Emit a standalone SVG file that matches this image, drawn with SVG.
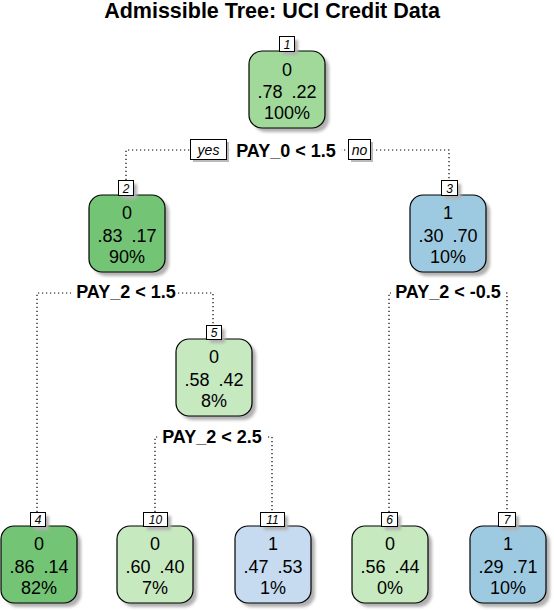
<svg xmlns="http://www.w3.org/2000/svg" width="554" height="610" viewBox="0 0 554 610">
<style>
  text { font-family: "Liberation Sans", Arial, sans-serif; fill: #000; }
  .title { font-size: 21.5px; font-weight: bold; text-anchor: middle; }
  .box { stroke: #000; stroke-width: 1.2; }
  .shadow { fill: #b0b0b0; filter: url(#blur); }
  .t { font-size: 18px; text-anchor: middle; word-spacing: 4px; }
  .lab { fill: #fff; stroke: #000; stroke-width: 1; }
  .num { font-size: 12px; font-style: italic; text-anchor: middle; }
  .split { font-size: 18px; font-weight: bold; text-anchor: middle; }
  .yn { font-size: 14px; font-style: italic; text-anchor: middle; }
  .con { fill: none; stroke: #000; stroke-width: 1.2; stroke-dasharray: 1.2 2.8; }
  .bg { fill: #fff; }
</style>
<defs>
  <filter id="blur" x="-20%" y="-20%" width="140%" height="140%"><feGaussianBlur stdDeviation="1.5"/></filter>
</defs>
<rect width="554" height="610" fill="#fff"/>
<text class="title" x="272" y="18">Admissible Tree: UCI Credit Data</text>

<g id="connectors">
  <path class="con" d="M126,180 V150 H449 V180"/>
  <path class="con" d="M37,512 V293 H213 V325"/>
  <path class="con" d="M389,512 V293 H507 V512"/>
  <path class="con" d="M155,512 V437 H272 V512"/>
</g>

<g id="split1">
  <rect class="bg" x="231" y="140" width="110" height="20"/>
  <text class="split" x="286" y="157">PAY_0 &lt; 1.5</text>
  <rect x="193" y="142" width="36" height="20" fill="#bbb"/>
  <rect class="lab" x="190.5" y="139.5" width="36" height="20"/>
  <text class="yn" x="208.5" y="155">yes</text>
  <rect x="351" y="142" width="22" height="20" fill="#bbb"/>
  <rect class="lab" x="348.5" y="139.5" width="22" height="20"/>
  <text class="yn" x="359.5" y="155">no</text>
</g>
<g id="split2">
  <rect class="bg" x="71" y="283" width="107" height="20"/>
  <text class="split" x="126" y="298">PAY_2 &lt; 1.5</text>
</g>
<g id="split3">
  <rect class="bg" x="391" y="283" width="114" height="20"/>
  <text class="split" x="448" y="298">PAY_2 &lt; -0.5</text>
</g>
<g id="split5">
  <rect class="bg" x="158" y="428" width="110" height="20"/>
  <text class="split" x="212" y="443">PAY_2 &lt; 2.5</text>
</g>

<g id="node1">
  <rect class="shadow" x="253" y="55" width="76" height="77" rx="13"/>
  <rect class="box" x="249" y="51" width="76" height="77" rx="13" fill="#a1d99b"/>
  <rect class="shadow" x="283" y="40" width="15" height="15"/>
  <rect class="lab" x="279.5" y="36.5" width="15" height="15"/>
  <text class="num" x="287" y="49">1</text>
  <text class="t" x="287" y="76">0</text>
  <text class="t" x="287" y="98">.78 .22</text>
  <text class="t" x="287" y="119">100%</text>
</g>
<g id="node2">
  <rect class="shadow" x="93" y="199" width="76" height="77" rx="13"/>
  <rect class="box" x="89" y="195" width="76" height="77" rx="13" fill="#74c476"/>
  <rect class="shadow" x="122" y="184" width="15" height="15"/>
  <rect class="lab" x="118.5" y="180.5" width="15" height="15"/>
  <text class="num" x="126" y="193">2</text>
  <text class="t" x="127" y="219">0</text>
  <text class="t" x="127" y="242">.83 .17</text>
  <text class="t" x="127" y="263">90%</text>
</g>
<g id="node3">
  <rect class="shadow" x="414" y="199" width="76" height="77" rx="13"/>
  <rect class="box" x="410" y="195" width="76" height="77" rx="13" fill="#9ecae1"/>
  <rect class="shadow" x="445" y="184" width="16" height="15"/>
  <rect class="lab" x="441.5" y="180.5" width="16" height="15"/>
  <text class="num" x="449.5" y="193">3</text>
  <text class="t" x="448" y="219">1</text>
  <text class="t" x="448" y="242">.30 .70</text>
  <text class="t" x="448" y="263">10%</text>
</g>
<g id="node5">
  <rect class="shadow" x="180" y="343" width="76" height="77" rx="13"/>
  <rect class="box" x="176" y="339" width="76" height="77" rx="13" fill="#c7e9c0"/>
  <rect class="shadow" x="210" y="329" width="15" height="14"/>
  <rect class="lab" x="206.5" y="325.5" width="15" height="14"/>
  <text class="num" x="214" y="337">5</text>
  <text class="t" x="214" y="363">0</text>
  <text class="t" x="214" y="386">.58 .42</text>
  <text class="t" x="214" y="407">8%</text>
</g>
<g id="node4">
  <rect class="shadow" x="5" y="530" width="76" height="77" rx="13"/>
  <rect class="box" x="1" y="526" width="76" height="77" rx="13" fill="#74c476"/>
  <rect class="shadow" x="34" y="516" width="15" height="14"/>
  <rect class="lab" x="30.5" y="512.5" width="15" height="14"/>
  <text class="num" x="38" y="524">4</text>
  <text class="t" x="39" y="550">0</text>
  <text class="t" x="39" y="573">.86 .14</text>
  <text class="t" x="39" y="594">82%</text>
</g>
<g id="node10">
  <rect class="shadow" x="121" y="530" width="76" height="77" rx="13"/>
  <rect class="box" x="117" y="526" width="76" height="77" rx="13" fill="#c7e9c0"/>
  <rect class="shadow" x="147" y="516" width="24" height="14"/>
  <rect class="lab" x="143.5" y="512.5" width="24" height="14"/>
  <text class="num" x="155.5" y="524">10</text>
  <text class="t" x="155" y="550">0</text>
  <text class="t" x="155" y="573">.60 .40</text>
  <text class="t" x="155" y="594">7%</text>
</g>
<g id="node11">
  <rect class="shadow" x="239" y="530" width="76" height="77" rx="13"/>
  <rect class="box" x="235" y="526" width="76" height="77" rx="13" fill="#c6dbef"/>
  <rect class="shadow" x="264" y="516" width="24" height="14"/>
  <rect class="lab" x="260.5" y="512.5" width="24" height="14"/>
  <text class="num" x="272.5" y="524">11</text>
  <text class="t" x="273" y="550">1</text>
  <text class="t" x="273" y="573">.47 .53</text>
  <text class="t" x="273" y="594">1%</text>
</g>
<g id="node6">
  <rect class="shadow" x="356" y="530" width="76" height="77" rx="13"/>
  <rect class="box" x="352" y="526" width="76" height="77" rx="13" fill="#c7e9c0"/>
  <rect class="shadow" x="385" y="516" width="16" height="14"/>
  <rect class="lab" x="381.5" y="512.5" width="16" height="14"/>
  <text class="num" x="389.5" y="524">6</text>
  <text class="t" x="390" y="550">0</text>
  <text class="t" x="390" y="573">.56 .44</text>
  <text class="t" x="390" y="594">0%</text>
</g>
<g id="node7">
  <rect class="shadow" x="474" y="530" width="76" height="77" rx="13"/>
  <rect class="box" x="470" y="526" width="76" height="77" rx="13" fill="#9ecae1"/>
  <rect class="shadow" x="502" y="516" width="17" height="14"/>
  <rect class="lab" x="498.5" y="512.5" width="17" height="14"/>
  <text class="num" x="507" y="524">7</text>
  <text class="t" x="508" y="550">1</text>
  <text class="t" x="508" y="573">.29 .71</text>
  <text class="t" x="508" y="594">10%</text>
</g>
</svg>
